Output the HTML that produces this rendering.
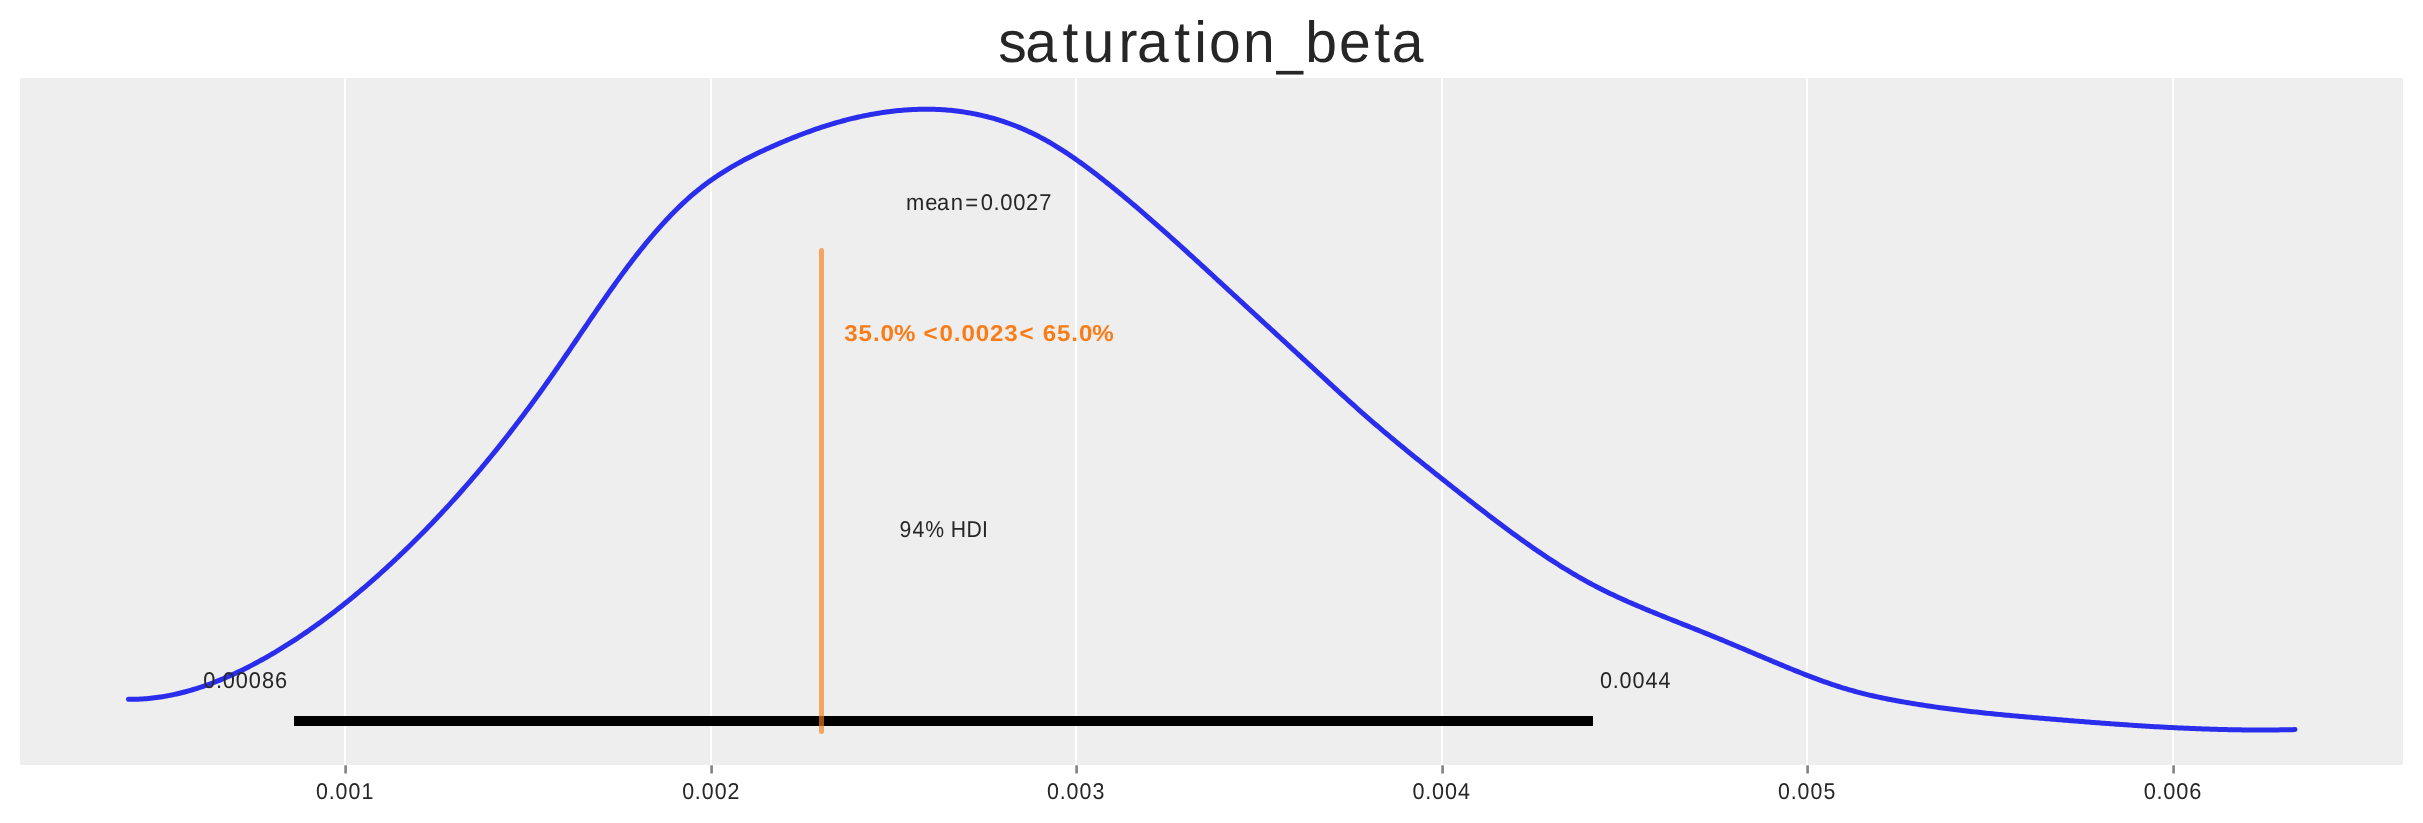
<!DOCTYPE html>
<html><head><meta charset="utf-8"><title>saturation_beta</title><style>
html,body{margin:0;padding:0;background:#fff;width:2423px;height:823px;overflow:hidden}
svg{display:block;will-change:transform}
text{font-family:"Liberation Sans",sans-serif;text-rendering:geometricPrecision}
</style></head><body>
<svg width="2423" height="823" viewBox="0 0 2423 823">
<rect x="0" y="0" width="2423" height="823" fill="#fff"/>
<rect x="20" y="78" width="2383" height="687" fill="#eeeeee"/>
<rect x="344" y="78" width="2" height="687" fill="#fff"/><rect x="710" y="78" width="2" height="687" fill="#fff"/><rect x="1075" y="78" width="2" height="687" fill="#fff"/><rect x="1441" y="78" width="2" height="687" fill="#fff"/><rect x="1806" y="78" width="2" height="687" fill="#fff"/><rect x="2172" y="78" width="2" height="687" fill="#fff"/>
<rect x="344.3" y="765.3" width="2.6" height="8.2" fill="#818181"/><rect x="710.3" y="765.3" width="2.6" height="8.2" fill="#818181"/><rect x="1075.3" y="765.3" width="2.6" height="8.2" fill="#818181"/><rect x="1441.3" y="765.3" width="2.6" height="8.2" fill="#818181"/><rect x="1806.3" y="765.3" width="2.6" height="8.2" fill="#818181"/><rect x="2172.3" y="765.3" width="2.6" height="8.2" fill="#818181"/>
<path d="M128.5,699.35 L130.5,699.35 L132.5,699.34 L134.5,699.31 L136.5,699.25 L138.5,699.17 L140.5,699.08 L142.5,698.96 L144.5,698.82 L146.5,698.66 L148.5,698.49 L150.5,698.29 L152.5,698.07 L154.5,697.83 L156.5,697.58 L158.5,697.30 L160.5,697.01 L162.5,696.69 L164.5,696.36 L166.5,696.01 L168.5,695.63 L170.5,695.24 L172.5,694.84 L174.5,694.41 L176.5,693.97 L178.5,693.50 L180.5,693.02 L182.5,692.52 L184.5,692.01 L186.5,691.47 L188.5,690.92 L190.5,690.35 L192.5,689.77 L194.5,689.16 L196.5,688.54 L198.5,687.91 L200.5,687.25 L202.5,686.58 L204.5,685.90 L206.5,685.20 L208.5,684.48 L210.5,683.74 L212.5,682.99 L214.5,682.23 L216.5,681.44 L218.5,680.65 L220.5,679.83 L222.5,679.01 L224.5,678.16 L226.5,677.31 L228.5,676.43 L230.5,675.54 L232.5,674.64 L234.5,673.73 L236.5,672.80 L238.5,671.85 L240.5,670.89 L242.5,669.92 L244.5,668.93 L246.5,667.93 L248.5,666.92 L250.5,665.89 L252.5,664.85 L254.5,663.79 L256.5,662.73 L258.5,661.65 L260.5,660.56 L262.5,659.45 L264.5,658.33 L266.5,657.20 L268.5,656.06 L270.5,654.91 L272.5,653.74 L274.5,652.56 L276.5,651.37 L278.5,650.17 L280.5,648.95 L282.5,647.73 L284.5,646.49 L286.5,645.24 L288.5,643.97 L290.5,642.70 L292.5,641.41 L294.5,640.11 L296.5,638.80 L298.5,637.48 L300.5,636.15 L302.5,634.80 L304.5,633.44 L306.5,632.07 L308.5,630.69 L310.5,629.30 L312.5,627.89 L314.5,626.48 L316.5,625.05 L318.5,623.61 L320.5,622.16 L322.5,620.69 L324.5,619.22 L326.5,617.73 L328.5,616.23 L330.5,614.72 L332.5,613.20 L334.5,611.67 L336.5,610.12 L338.5,608.57 L340.5,607.00 L342.5,605.42 L344.5,603.83 L346.5,602.23 L348.5,600.61 L350.5,598.99 L352.5,597.35 L354.5,595.70 L356.5,594.04 L358.5,592.37 L360.5,590.69 L362.5,589.00 L364.5,587.29 L366.5,585.57 L368.5,583.85 L370.5,582.11 L372.5,580.36 L374.5,578.60 L376.5,576.82 L378.5,575.04 L380.5,573.24 L382.5,571.44 L384.5,569.62 L386.5,567.79 L388.5,565.95 L390.5,564.10 L392.5,562.24 L394.5,560.36 L396.5,558.48 L398.5,556.59 L400.5,554.68 L402.5,552.76 L404.5,550.83 L406.5,548.89 L408.5,546.94 L410.5,544.98 L412.5,543.01 L414.5,541.03 L416.5,539.03 L418.5,537.02 L420.5,535.01 L422.5,532.98 L424.5,530.94 L426.5,528.89 L428.5,526.83 L430.5,524.75 L432.5,522.67 L434.5,520.57 L436.5,518.46 L438.5,516.34 L440.5,514.21 L442.5,512.07 L444.5,509.91 L446.5,507.75 L448.5,505.57 L450.5,503.38 L452.5,501.17 L454.5,498.96 L456.5,496.73 L458.5,494.49 L460.5,492.24 L462.5,489.98 L464.5,487.71 L466.5,485.42 L468.5,483.12 L470.5,480.81 L472.5,478.48 L474.5,476.14 L476.5,473.79 L478.5,471.43 L480.5,469.06 L482.5,466.67 L484.5,464.27 L486.5,461.86 L488.5,459.43 L490.5,456.99 L492.5,454.54 L494.5,452.08 L496.5,449.60 L498.5,447.11 L500.5,444.60 L502.5,442.09 L504.5,439.56 L506.5,437.02 L508.5,434.46 L510.5,431.89 L512.5,429.31 L514.5,426.71 L516.5,424.10 L518.5,421.48 L520.5,418.84 L522.5,416.19 L524.5,413.53 L526.5,410.85 L528.5,408.16 L530.5,405.45 L532.5,402.73 L534.5,400.00 L536.5,397.25 L538.5,394.49 L540.5,391.72 L542.5,388.93 L544.5,386.12 L546.5,383.31 L548.5,380.48 L550.5,377.63 L552.5,374.77 L554.5,371.90 L556.5,369.02 L558.5,366.12 L560.5,363.22 L562.5,360.31 L564.5,357.39 L566.5,354.47 L568.5,351.54 L570.5,348.60 L572.5,345.66 L574.5,342.72 L576.5,339.77 L578.5,336.82 L580.5,333.88 L582.5,330.93 L584.5,327.99 L586.5,325.05 L588.5,322.11 L590.5,319.18 L592.5,316.25 L594.5,313.33 L596.5,310.42 L598.5,307.51 L600.5,304.61 L602.5,301.73 L604.5,298.85 L606.5,295.99 L608.5,293.14 L610.5,290.31 L612.5,287.49 L614.5,284.68 L616.5,281.89 L618.5,279.12 L620.5,276.37 L622.5,273.64 L624.5,270.93 L626.5,268.24 L628.5,265.57 L630.5,262.93 L632.5,260.31 L634.5,257.71 L636.5,255.14 L638.5,252.59 L640.5,250.07 L642.5,247.58 L644.5,245.11 L646.5,242.66 L648.5,240.25 L650.5,237.86 L652.5,235.50 L654.5,233.17 L656.5,230.86 L658.5,228.59 L660.5,226.34 L662.5,224.12 L664.5,221.94 L666.5,219.78 L668.5,217.66 L670.5,215.57 L672.5,213.50 L674.5,211.47 L676.5,209.48 L678.5,207.51 L680.5,205.58 L682.5,203.69 L684.5,201.82 L686.5,199.99 L688.5,198.20 L690.5,196.44 L692.5,194.72 L694.5,193.03 L696.5,191.37 L698.5,189.75 L700.5,188.16 L702.5,186.59 L704.5,185.06 L706.5,183.56 L708.5,182.09 L710.5,180.65 L712.5,179.23 L714.5,177.85 L716.5,176.48 L718.5,175.15 L720.5,173.84 L722.5,172.55 L724.5,171.29 L726.5,170.05 L728.5,168.83 L730.5,167.64 L732.5,166.46 L734.5,165.31 L736.5,164.18 L738.5,163.06 L740.5,161.96 L742.5,160.89 L744.5,159.82 L746.5,158.78 L748.5,157.75 L750.5,156.73 L752.5,155.73 L754.5,154.75 L756.5,153.77 L758.5,152.81 L760.5,151.86 L762.5,150.92 L764.5,149.99 L766.5,149.07 L768.5,148.16 L770.5,147.26 L772.5,146.36 L774.5,145.48 L776.5,144.60 L778.5,143.73 L780.5,142.87 L782.5,142.02 L784.5,141.18 L786.5,140.34 L788.5,139.52 L790.5,138.70 L792.5,137.90 L794.5,137.10 L796.5,136.31 L798.5,135.54 L800.5,134.77 L802.5,134.01 L804.5,133.26 L806.5,132.52 L808.5,131.79 L810.5,131.07 L812.5,130.36 L814.5,129.66 L816.5,128.97 L818.5,128.30 L820.5,127.63 L822.5,126.97 L824.5,126.33 L826.5,125.69 L828.5,125.06 L830.5,124.45 L832.5,123.85 L834.5,123.26 L836.5,122.68 L838.5,122.11 L840.5,121.55 L842.5,121.00 L844.5,120.47 L846.5,119.94 L848.5,119.43 L850.5,118.93 L852.5,118.44 L854.5,117.96 L856.5,117.50 L858.5,117.04 L860.5,116.60 L862.5,116.17 L864.5,115.76 L866.5,115.35 L868.5,114.96 L870.5,114.58 L872.5,114.21 L874.5,113.85 L876.5,113.51 L878.5,113.18 L880.5,112.86 L882.5,112.56 L884.5,112.27 L886.5,111.99 L888.5,111.72 L890.5,111.47 L892.5,111.23 L894.5,111.00 L896.5,110.79 L898.5,110.59 L900.5,110.40 L902.5,110.22 L904.5,110.06 L906.5,109.92 L908.5,109.79 L910.5,109.67 L912.5,109.56 L914.5,109.47 L916.5,109.39 L918.5,109.33 L920.5,109.28 L922.5,109.25 L924.5,109.23 L926.5,109.22 L928.5,109.23 L930.5,109.26 L932.5,109.30 L934.5,109.35 L936.5,109.42 L938.5,109.51 L940.5,109.61 L942.5,109.73 L944.5,109.86 L946.5,110.01 L948.5,110.18 L950.5,110.36 L952.5,110.56 L954.5,110.77 L956.5,111.00 L958.5,111.25 L960.5,111.51 L962.5,111.80 L964.5,112.10 L966.5,112.41 L968.5,112.75 L970.5,113.10 L972.5,113.47 L974.5,113.85 L976.5,114.26 L978.5,114.68 L980.5,115.12 L982.5,115.58 L984.5,116.06 L986.5,116.55 L988.5,117.07 L990.5,117.60 L992.5,118.15 L994.5,118.72 L996.5,119.31 L998.5,119.92 L1000.5,120.55 L1002.5,121.20 L1004.5,121.87 L1006.5,122.56 L1008.5,123.26 L1010.5,123.99 L1012.5,124.74 L1014.5,125.51 L1016.5,126.29 L1018.5,127.10 L1020.5,127.93 L1022.5,128.78 L1024.5,129.65 L1026.5,130.55 L1028.5,131.46 L1030.5,132.39 L1032.5,133.35 L1034.5,134.33 L1036.5,135.33 L1038.5,136.35 L1040.5,137.39 L1042.5,138.45 L1044.5,139.54 L1046.5,140.65 L1048.5,141.78 L1050.5,142.93 L1052.5,144.11 L1054.5,145.30 L1056.5,146.52 L1058.5,147.76 L1060.5,149.02 L1062.5,150.30 L1064.5,151.59 L1066.5,152.91 L1068.5,154.25 L1070.5,155.60 L1072.5,156.97 L1074.5,158.35 L1076.5,159.76 L1078.5,161.17 L1080.5,162.61 L1082.5,164.06 L1084.5,165.52 L1086.5,167.00 L1088.5,168.49 L1090.5,169.99 L1092.5,171.51 L1094.5,173.03 L1096.5,174.57 L1098.5,176.12 L1100.5,177.68 L1102.5,179.26 L1104.5,180.84 L1106.5,182.43 L1108.5,184.03 L1110.5,185.63 L1112.5,187.25 L1114.5,188.87 L1116.5,190.51 L1118.5,192.14 L1120.5,193.79 L1122.5,195.45 L1124.5,197.11 L1126.5,198.78 L1128.5,200.45 L1130.5,202.13 L1132.5,203.82 L1134.5,205.52 L1136.5,207.22 L1138.5,208.93 L1140.5,210.65 L1142.5,212.37 L1144.5,214.09 L1146.5,215.83 L1148.5,217.56 L1150.5,219.31 L1152.5,221.06 L1154.5,222.81 L1156.5,224.57 L1158.5,226.33 L1160.5,228.10 L1162.5,229.87 L1164.5,231.65 L1166.5,233.43 L1168.5,235.22 L1170.5,237.01 L1172.5,238.80 L1174.5,240.60 L1176.5,242.40 L1178.5,244.21 L1180.5,246.02 L1182.5,247.83 L1184.5,249.64 L1186.5,251.46 L1188.5,253.28 L1190.5,255.10 L1192.5,256.93 L1194.5,258.75 L1196.5,260.58 L1198.5,262.41 L1200.5,264.25 L1202.5,266.08 L1204.5,267.92 L1206.5,269.76 L1208.5,271.60 L1210.5,273.44 L1212.5,275.28 L1214.5,277.12 L1216.5,278.97 L1218.5,280.81 L1220.5,282.66 L1222.5,284.50 L1224.5,286.35 L1226.5,288.19 L1228.5,290.04 L1230.5,291.88 L1232.5,293.73 L1234.5,295.57 L1236.5,297.41 L1238.5,299.26 L1240.5,301.10 L1242.5,302.95 L1244.5,304.79 L1246.5,306.63 L1248.5,308.48 L1250.5,310.32 L1252.5,312.17 L1254.5,314.01 L1256.5,315.85 L1258.5,317.70 L1260.5,319.54 L1262.5,321.38 L1264.5,323.23 L1266.5,325.07 L1268.5,326.91 L1270.5,328.76 L1272.5,330.60 L1274.5,332.45 L1276.5,334.29 L1278.5,336.14 L1280.5,337.98 L1282.5,339.82 L1284.5,341.67 L1286.5,343.52 L1288.5,345.36 L1290.5,347.21 L1292.5,349.05 L1294.5,350.90 L1296.5,352.75 L1298.5,354.59 L1300.5,356.44 L1302.5,358.29 L1304.5,360.14 L1306.5,361.99 L1308.5,363.83 L1310.5,365.68 L1312.5,367.53 L1314.5,369.38 L1316.5,371.23 L1318.5,373.08 L1320.5,374.93 L1322.5,376.78 L1324.5,378.62 L1326.5,380.46 L1328.5,382.31 L1330.5,384.14 L1332.5,385.98 L1334.5,387.82 L1336.5,389.65 L1338.5,391.48 L1340.5,393.30 L1342.5,395.12 L1344.5,396.94 L1346.5,398.75 L1348.5,400.56 L1350.5,402.36 L1352.5,404.16 L1354.5,405.95 L1356.5,407.74 L1358.5,409.52 L1360.5,411.30 L1362.5,413.06 L1364.5,414.83 L1366.5,416.58 L1368.5,418.33 L1370.5,420.07 L1372.5,421.80 L1374.5,423.53 L1376.5,425.25 L1378.5,426.96 L1380.5,428.67 L1382.5,430.37 L1384.5,432.06 L1386.5,433.75 L1388.5,435.43 L1390.5,437.11 L1392.5,438.78 L1394.5,440.44 L1396.5,442.10 L1398.5,443.76 L1400.5,445.41 L1402.5,447.05 L1404.5,448.69 L1406.5,450.33 L1408.5,451.96 L1410.5,453.58 L1412.5,455.21 L1414.5,456.83 L1416.5,458.44 L1418.5,460.06 L1420.5,461.66 L1422.5,463.27 L1424.5,464.87 L1426.5,466.48 L1428.5,468.07 L1430.5,469.67 L1432.5,471.26 L1434.5,472.85 L1436.5,474.44 L1438.5,476.03 L1440.5,477.62 L1442.5,479.20 L1444.5,480.78 L1446.5,482.37 L1448.5,483.95 L1450.5,485.53 L1452.5,487.11 L1454.5,488.69 L1456.5,490.26 L1458.5,491.84 L1460.5,493.41 L1462.5,494.98 L1464.5,496.55 L1466.5,498.12 L1468.5,499.69 L1470.5,501.25 L1472.5,502.81 L1474.5,504.37 L1476.5,505.92 L1478.5,507.47 L1480.5,509.02 L1482.5,510.56 L1484.5,512.10 L1486.5,513.64 L1488.5,515.17 L1490.5,516.70 L1492.5,518.22 L1494.5,519.74 L1496.5,521.25 L1498.5,522.76 L1500.5,524.27 L1502.5,525.76 L1504.5,527.25 L1506.5,528.74 L1508.5,530.22 L1510.5,531.70 L1512.5,533.16 L1514.5,534.62 L1516.5,536.08 L1518.5,537.53 L1520.5,538.97 L1522.5,540.40 L1524.5,541.82 L1526.5,543.24 L1528.5,544.65 L1530.5,546.06 L1532.5,547.45 L1534.5,548.84 L1536.5,550.21 L1538.5,551.58 L1540.5,552.94 L1542.5,554.29 L1544.5,555.63 L1546.5,556.97 L1548.5,558.29 L1550.5,559.60 L1552.5,560.90 L1554.5,562.20 L1556.5,563.48 L1558.5,564.75 L1560.5,566.01 L1562.5,567.26 L1564.5,568.50 L1566.5,569.73 L1568.5,570.95 L1570.5,572.15 L1572.5,573.34 L1574.5,574.52 L1576.5,575.69 L1578.5,576.85 L1580.5,578.00 L1582.5,579.13 L1584.5,580.25 L1586.5,581.35 L1588.5,582.44 L1590.5,583.52 L1592.5,584.59 L1594.5,585.64 L1596.5,586.69 L1598.5,587.71 L1600.5,588.73 L1602.5,589.74 L1604.5,590.73 L1606.5,591.71 L1608.5,592.69 L1610.5,593.65 L1612.5,594.60 L1614.5,595.55 L1616.5,596.48 L1618.5,597.41 L1620.5,598.32 L1622.5,599.23 L1624.5,600.13 L1626.5,601.02 L1628.5,601.91 L1630.5,602.78 L1632.5,603.65 L1634.5,604.52 L1636.5,605.38 L1638.5,606.23 L1640.5,607.07 L1642.5,607.92 L1644.5,608.75 L1646.5,609.58 L1648.5,610.41 L1650.5,611.23 L1652.5,612.05 L1654.5,612.87 L1656.5,613.68 L1658.5,614.49 L1660.5,615.30 L1662.5,616.10 L1664.5,616.91 L1666.5,617.71 L1668.5,618.50 L1670.5,619.30 L1672.5,620.09 L1674.5,620.89 L1676.5,621.68 L1678.5,622.47 L1680.5,623.27 L1682.5,624.06 L1684.5,624.85 L1686.5,625.64 L1688.5,626.43 L1690.5,627.23 L1692.5,628.02 L1694.5,628.81 L1696.5,629.61 L1698.5,630.41 L1700.5,631.21 L1702.5,632.01 L1704.5,632.82 L1706.5,633.62 L1708.5,634.43 L1710.5,635.25 L1712.5,636.06 L1714.5,636.88 L1716.5,637.70 L1718.5,638.53 L1720.5,639.35 L1722.5,640.18 L1724.5,641.01 L1726.5,641.84 L1728.5,642.68 L1730.5,643.51 L1732.5,644.35 L1734.5,645.19 L1736.5,646.03 L1738.5,646.87 L1740.5,647.72 L1742.5,648.56 L1744.5,649.41 L1746.5,650.25 L1748.5,651.10 L1750.5,651.94 L1752.5,652.79 L1754.5,653.64 L1756.5,654.48 L1758.5,655.33 L1760.5,656.17 L1762.5,657.02 L1764.5,657.87 L1766.5,658.71 L1768.5,659.55 L1770.5,660.40 L1772.5,661.24 L1774.5,662.08 L1776.5,662.91 L1778.5,663.75 L1780.5,664.58 L1782.5,665.41 L1784.5,666.24 L1786.5,667.07 L1788.5,667.89 L1790.5,668.71 L1792.5,669.52 L1794.5,670.33 L1796.5,671.13 L1798.5,671.93 L1800.5,672.73 L1802.5,673.52 L1804.5,674.30 L1806.5,675.08 L1808.5,675.85 L1810.5,676.62 L1812.5,677.38 L1814.5,678.13 L1816.5,678.87 L1818.5,679.61 L1820.5,680.34 L1822.5,681.06 L1824.5,681.77 L1826.5,682.47 L1828.5,683.17 L1830.5,683.85 L1832.5,684.53 L1834.5,685.20 L1836.5,685.85 L1838.5,686.50 L1840.5,687.13 L1842.5,687.76 L1844.5,688.37 L1846.5,688.97 L1848.5,689.56 L1850.5,690.14 L1852.5,690.71 L1854.5,691.26 L1856.5,691.80 L1858.5,692.34 L1860.5,692.86 L1862.5,693.37 L1864.5,693.87 L1866.5,694.36 L1868.5,694.84 L1870.5,695.32 L1872.5,695.78 L1874.5,696.23 L1876.5,696.68 L1878.5,697.12 L1880.5,697.54 L1882.5,697.96 L1884.5,698.38 L1886.5,698.78 L1888.5,699.18 L1890.5,699.57 L1892.5,699.96 L1894.5,700.33 L1896.5,700.71 L1898.5,701.07 L1900.5,701.43 L1902.5,701.79 L1904.5,702.14 L1906.5,702.48 L1908.5,702.82 L1910.5,703.16 L1912.5,703.49 L1914.5,703.81 L1916.5,704.13 L1918.5,704.45 L1920.5,704.77 L1922.5,705.08 L1924.5,705.38 L1926.5,705.68 L1928.5,705.98 L1930.5,706.27 L1932.5,706.56 L1934.5,706.85 L1936.5,707.13 L1938.5,707.41 L1940.5,707.69 L1942.5,707.96 L1944.5,708.23 L1946.5,708.49 L1948.5,708.75 L1950.5,709.01 L1952.5,709.27 L1954.5,709.52 L1956.5,709.77 L1958.5,710.01 L1960.5,710.25 L1962.5,710.49 L1964.5,710.73 L1966.5,710.96 L1968.5,711.19 L1970.5,711.42 L1972.5,711.65 L1974.5,711.87 L1976.5,712.09 L1978.5,712.31 L1980.5,712.53 L1982.5,712.74 L1984.5,712.95 L1986.5,713.16 L1988.5,713.37 L1990.5,713.57 L1992.5,713.77 L1994.5,713.97 L1996.5,714.17 L1998.5,714.37 L2000.5,714.56 L2002.5,714.75 L2004.5,714.95 L2006.5,715.14 L2008.5,715.32 L2010.5,715.51 L2012.5,715.69 L2014.5,715.88 L2016.5,716.06 L2018.5,716.24 L2020.5,716.42 L2022.5,716.60 L2024.5,716.78 L2026.5,716.95 L2028.5,717.13 L2030.5,717.30 L2032.5,717.47 L2034.5,717.65 L2036.5,717.82 L2038.5,717.99 L2040.5,718.16 L2042.5,718.33 L2044.5,718.50 L2046.5,718.66 L2048.5,718.83 L2050.5,719.00 L2052.5,719.17 L2054.5,719.33 L2056.5,719.50 L2058.5,719.67 L2060.5,719.83 L2062.5,720.00 L2064.5,720.16 L2066.5,720.32 L2068.5,720.49 L2070.5,720.65 L2072.5,720.81 L2074.5,720.97 L2076.5,721.13 L2078.5,721.29 L2080.5,721.45 L2082.5,721.61 L2084.5,721.77 L2086.5,721.93 L2088.5,722.08 L2090.5,722.24 L2092.5,722.39 L2094.5,722.55 L2096.5,722.70 L2098.5,722.85 L2100.5,723.00 L2102.5,723.15 L2104.5,723.30 L2106.5,723.45 L2108.5,723.59 L2110.5,723.74 L2112.5,723.88 L2114.5,724.03 L2116.5,724.17 L2118.5,724.31 L2120.5,724.45 L2122.5,724.59 L2124.5,724.73 L2126.5,724.86 L2128.5,725.00 L2130.5,725.13 L2132.5,725.27 L2134.5,725.40 L2136.5,725.53 L2138.5,725.65 L2140.5,725.78 L2142.5,725.91 L2144.5,726.03 L2146.5,726.15 L2148.5,726.28 L2150.5,726.40 L2152.5,726.51 L2154.5,726.63 L2156.5,726.75 L2158.5,726.86 L2160.5,726.97 L2162.5,727.08 L2164.5,727.19 L2166.5,727.30 L2168.5,727.40 L2170.5,727.51 L2172.5,727.61 L2174.5,727.71 L2176.5,727.81 L2178.5,727.90 L2180.5,728.00 L2182.5,728.09 L2184.5,728.18 L2186.5,728.27 L2188.5,728.35 L2190.5,728.44 L2192.5,728.52 L2194.5,728.60 L2196.5,728.68 L2198.5,728.76 L2200.5,728.83 L2202.5,728.91 L2204.5,728.98 L2206.5,729.04 L2208.5,729.11 L2210.5,729.17 L2212.5,729.24 L2214.5,729.30 L2216.5,729.35 L2218.5,729.41 L2220.5,729.46 L2222.5,729.51 L2224.5,729.56 L2226.5,729.60 L2228.5,729.65 L2230.5,729.69 L2232.5,729.73 L2234.5,729.76 L2236.5,729.80 L2238.5,729.83 L2240.5,729.86 L2242.5,729.88 L2244.5,729.90 L2246.5,729.93 L2248.5,729.94 L2250.5,729.96 L2252.5,729.97 L2254.5,729.98 L2256.5,729.99 L2258.5,729.99 L2260.5,730.00 L2262.5,729.99 L2264.5,729.99 L2266.5,729.98 L2268.5,729.97 L2270.5,729.96 L2272.5,729.95 L2274.5,729.93 L2276.5,729.91 L2278.5,729.88 L2280.5,729.86 L2282.5,729.83 L2284.5,729.79 L2286.5,729.76 L2288.5,729.72 L2290.5,729.68 L2292.5,729.63 L2294.5,729.58 L2295.0,729.57" fill="none" stroke="#2a2eec" stroke-width="5" stroke-linecap="round" stroke-linejoin="round"/>
<line x1="294" y1="721" x2="1593" y2="721" stroke="#000" stroke-width="10"/>
<line x1="821.5" y1="250.4" x2="821.5" y2="731.4" stroke="#fa7c17" stroke-opacity="0.65" stroke-width="5" stroke-linecap="round"/>
<text transform="translate(0,61.70) scale(0.57014,0.58139)" font-size="100" fill="#262626"><tspan x="1750.94 1798.10 1863.43 1898.63 1961.83 1994.21 2059.54 2094.66 2120.50 2180.27" y="0">saturation</tspan><tspan x="2239.24" y="2.58" font-size="100.0" textLength="46.05" lengthAdjust="spacingAndGlyphs">_</tspan><tspan x="2289.18 2348.56 2410.22 2441.03" y="0">beta</tspan></text>
<text transform="translate(0,210.10) scale(0.21928,0.22966)" x="4132.12 4220.01 4273.53 4335.41 4402.47 4472.55 4530.94 4561.53 4620.87 4678.97 4739.35" y="0" font-size="100" fill="#262626">mean=0.0027</text>
<text transform="translate(0,340.95) scale(0.24155,0.22966)" x="3495.46 3554.41 3613.74 3645.39 3700.63 3788.25 3823.08 3889.54 3948.96 3980.61 4039.52 4098.29 4157.38 4220.72 4286.31 4316.91 4375.66 4434.99 4466.64 4521.88" y="0" font-size="100" font-weight="bold" fill="#fa7c17">35.0% &lt;0.0023&lt; 65.0%</text>
<text transform="translate(0,536.80) scale(0.21215,0.22966)" x="4239.39 4301.01 4360.86 4452.54 4481.86 4555.41 4628.78" y="0" font-size="100" fill="#262626">94% HDI</text>
<text transform="translate(0,688.00) scale(0.21731,0.22966)" x="935.72 994.51 1025.51 1085.38 1145.25 1205.12 1265.00" y="0" font-size="100" fill="#262626">0.00086</text>
<text transform="translate(0,688.00) scale(0.21580,0.22966)" x="7414.30 7473.40 7504.71 7565.01 7625.29 7685.59" y="0" font-size="100" fill="#262626">0.0044</text>
<text transform="translate(0,798.85) scale(0.21372,0.22966)" x="1478.83 1538.37 1570.13 1631.01 1691.38" y="0" font-size="100" fill="#262626">0.001</text>
<text transform="translate(0,798.85) scale(0.21406,0.22966)" x="3186.63 3246.10 3277.78 3338.56 3398.09" y="0" font-size="100" fill="#262626">0.002</text>
<text transform="translate(0,798.85) scale(0.21382,0.22966)" x="4896.29 4955.81 4987.54 5048.39 5109.37" y="0" font-size="100" fill="#262626">0.003</text>
<text transform="translate(0,798.85) scale(0.21584,0.22966)" x="6544.64 6603.73 6635.04 6695.32 6755.59" y="0" font-size="100" fill="#262626">0.004</text>
<text transform="translate(0,798.85) scale(0.21297,0.22966)" x="8348.59 8408.29 8440.21 8501.30 8562.02" y="0" font-size="100" fill="#262626">0.005</text>
<text transform="translate(0,798.85) scale(0.21759,0.22966)" x="9851.70 9910.43 9941.37 10001.17 10060.96" y="0" font-size="100" fill="#262626">0.006</text>
</svg>
</body></html>
